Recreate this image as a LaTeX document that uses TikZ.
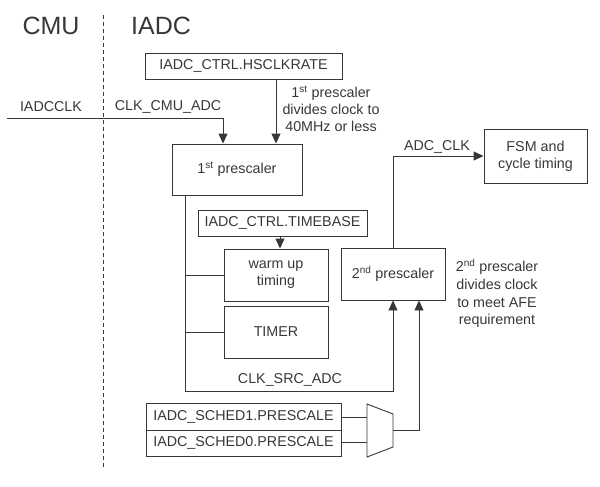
\documentclass[tikz,border=0pt]{standalone}
\usepackage{fontspec}
\setmainfont{Liberation Sans}
\usetikzlibrary{arrows.meta}
\definecolor{ink}{RGB}{55,55,55}
\begin{document}
\begin{tikzpicture}[x=1pt,y=-1pt,
  box/.style={draw=ink,line width=0.9pt,text=ink,inner sep=0pt,font=\fontsize{14.3}{17}\selectfont,align=center},
  lbl/.style={text=ink,inner sep=0pt,font=\fontsize{14.3}{17}\selectfont,align=center},
  big/.style={text=ink,inner sep=0pt,font=\fontsize{25}{30}\selectfont},
  wire/.style={draw=ink,line width=0.9pt},
  arr/.style={wire,-{Triangle[length=10pt,width=9pt]}}]
\useasboundingbox (0,0) rectangle (600,487);
% titles and dashed divider
\node[big] (cmu) at (51,26) {CMU};
\node[big] (iadc) at (161,26) {IADC};
\coordinate (dtop) at (103,15);
\coordinate (dbot) at (103,468);
\draw[wire,dash pattern=on 4pt off 3pt] (dtop) -- (dbot);
% boxes
\node[box,minimum width=197pt,minimum height=26pt] (hs) at (243.5,66) {IADC\_CTRL.HSCLKRATE};
\node[box,minimum width=130pt,minimum height=51pt] (p1) at (237,169.5) {1\textsuperscript{st} prescaler};
\node[box,minimum width=169pt,minimum height=26pt] (tb) at (282.5,223) {IADC\_CTRL.TIMEBASE};
\node[box,minimum width=104pt,minimum height=52pt] (warm) at (276,275) {warm up\\timing};
\node[box,minimum width=104pt,minimum height=52pt] (timer) at (276,332) {TIMER};
\node[box,minimum width=104pt,minimum height=52pt] (p2) at (393,274) {2\textsuperscript{nd} prescaler};
\node[box,minimum width=103pt,minimum height=54pt] (fsm) at (535.5,156) {FSM and\\cycle timing};
\node[box,minimum width=195pt,minimum height=27pt] (s1) at (243.5,416.5) {IADC\_SCHED1.PRESCALE};
\node[box,minimum width=195pt,minimum height=26pt] (s0) at (243.5,443) {IADC\_SCHED0.PRESCALE};
% mux
\coordinate (m1) at (367,404);
\coordinate (m2) at (393,414);
\coordinate (m3) at (393,447);
\coordinate (m4) at (367,457);
\draw[wire,line join=miter] (m1) -- (m2) -- (m3) -- (m4) -- cycle;
\coordinate (min1) at (367,417);
\coordinate (min0) at (367,442);
\coordinate (mout) at (393,430);
% labels
\node[lbl] (liadcclk) at (51,107) {IADCCLK};
\node[lbl] (lcmu) at (168,107) {CLK\_CMU\_ADC};
\node[lbl] (ladc) at (437,147) {ADC\_CLK};
\node[lbl] (lsrc) at (290,380) {CLK\_SRC\_ADC};
\node[lbl,font=\fontsize{14.3}{17.2}\selectfont] (n1) at (331,109) {1\textsuperscript{st} prescaler\\divides clock to\\40MHz or less};
\node[lbl,font=\fontsize{14.3}{17.6}\selectfont] (n2) at (497,293.5) {2\textsuperscript{nd} prescaler\\divides clock\\to meet AFE\\requirement};
% connectors
\coordinate (src) at (7,118);
\draw[arr] (src) -| (p1.north -| 223,0);
\draw[arr] (hs.south -| 276,0) -- (p1.north -| 276,0);
\coordinate (bus) at (185,391);
\draw[arr] (p1.south -| bus) -- (bus) -| (p2.south -| 393,0);
\draw[wire] (warm.west -| bus) -- (warm.west);
\draw[wire] (timer.west -| bus) -- (timer.west);
\draw[arr] (tb.south -| 280,0) -- (warm.north -| 280,0);
\draw[arr] (p2.north) |- (fsm.west);
\draw[wire] (s1.east |- min1) -- (min1);
\draw[wire] (s0.east |- min0) -- (min0);
\draw[arr] (mout) -| (p2.south -| 419,0);
\end{tikzpicture}
\end{document}
